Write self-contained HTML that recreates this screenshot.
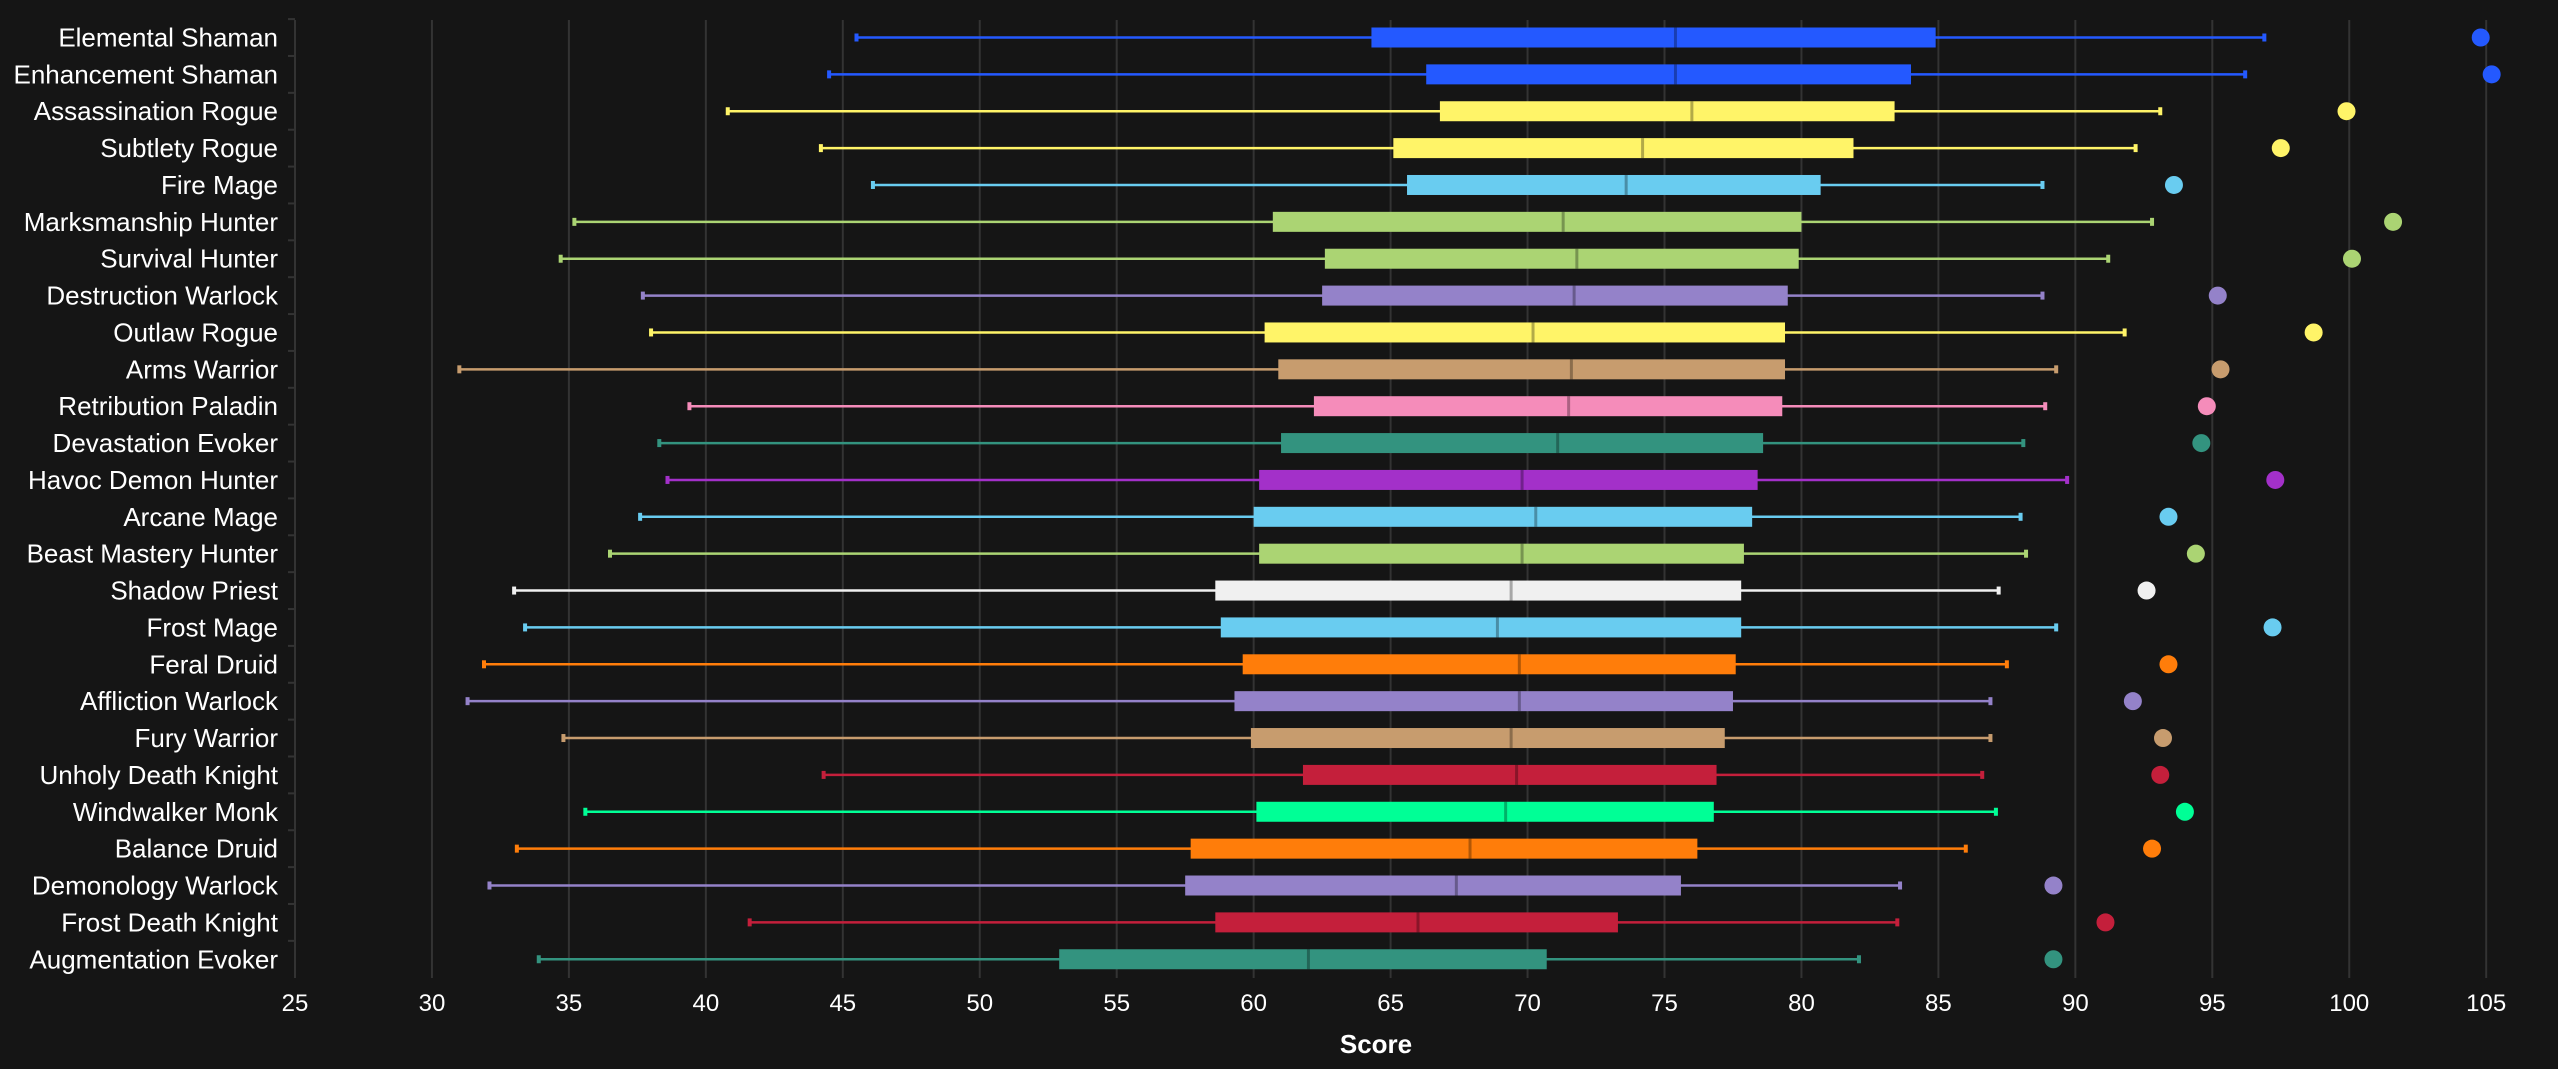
<!DOCTYPE html>
<html><head><meta charset="utf-8"><style>
html,body{margin:0;padding:0;background:#151515;}
svg{display:block}
text{font-family:"Liberation Sans Narrow","Liberation Sans",sans-serif;fill:#fff}
</style></head><body>
<svg id="c" width="2558" height="1069" xmlns="http://www.w3.org/2000/svg"></svg>
<script>
const d=[
["Elemental Shaman","#2459ff",45.5,64.3,75.4,84.9,96.9,104.8],
["Enhancement Shaman","#2459ff",44.5,66.3,75.4,84.0,96.2,105.2],
["Assassination Rogue","#fff468",40.8,66.8,76.0,83.4,93.1,99.9],
["Subtlety Rogue","#fff468",44.2,65.1,74.2,81.9,92.2,97.5],
["Fire Mage","#69ccf0",46.1,65.6,73.6,80.7,88.8,93.6],
["Marksmanship Hunter","#abd473",35.2,60.7,71.3,80.0,92.8,101.6],
["Survival Hunter","#abd473",34.7,62.6,71.8,79.9,91.2,100.1],
["Destruction Warlock","#9482c9",37.7,62.5,71.7,79.5,88.8,95.2],
["Outlaw Rogue","#fff468",38.0,60.4,70.2,79.4,91.8,98.7],
["Arms Warrior","#c79c6e",31.0,60.9,71.6,79.4,89.3,95.3],
["Retribution Paladin","#f58cba",39.4,62.2,71.5,79.3,88.9,94.8],
["Devastation Evoker","#33937f",38.3,61.0,71.1,78.6,88.1,94.6],
["Havoc Demon Hunter","#a330c9",38.6,60.2,69.8,78.4,89.7,97.3],
["Arcane Mage","#69ccf0",37.6,60.0,70.3,78.2,88.0,93.4],
["Beast Mastery Hunter","#abd473",36.5,60.2,69.8,77.9,88.2,94.4],
["Shadow Priest","#f0f0f0",33.0,58.6,69.4,77.8,87.2,92.6],
["Frost Mage","#69ccf0",33.4,58.8,68.9,77.8,89.3,97.2],
["Feral Druid","#ff7d0a",31.9,59.6,69.7,77.6,87.5,93.4],
["Affliction Warlock","#9482c9",31.3,59.3,69.7,77.5,86.9,92.1],
["Fury Warrior","#c79c6e",34.8,59.9,69.4,77.2,86.9,93.2],
["Unholy Death Knight","#c41f3b",44.3,61.8,69.6,76.9,86.6,93.1],
["Windwalker Monk","#00ff96",35.6,60.1,69.2,76.8,87.1,94.0],
["Balance Druid","#ff7d0a",33.1,57.7,67.9,76.2,86.0,92.8],
["Demonology Warlock","#9482c9",32.1,57.5,67.4,75.6,83.6,89.2],
["Frost Death Knight","#c41f3b",41.6,58.6,66.0,73.3,83.5,91.1],
["Augmentation Evoker","#33937f",33.9,52.9,62.0,70.7,82.1,89.2]];
const X=v=>295+(v-25)*27.39, Y=i=>37.5+i*36.87;
let s='';
for(let v=30;v<=105;v+=5)s+=`<line x1="${X(v)}" x2="${X(v)}" y1="20" y2="978" stroke="#333" stroke-width="2"/>`;
s+=`<line x1="295" x2="295" y1="20" y2="978" stroke="#333" stroke-width="2"/>`;
for(let v=25;v<=105;v+=5)s+=`<text x="${X(v)}" y="1011" font-size="24" text-anchor="middle">${v}</text>`;
s+=`<text x="1376" y="1053" font-size="26" font-weight="bold" text-anchor="middle">Score</text>`;
d.forEach((r,i)=>{const y=Y(i),[n,c,a,q1,m,q3,b,o]=r;
s+=`<line x1="288" x2="295" y1="${y-18.4}" y2="${y-18.4}" stroke="#333" stroke-width="2"/>`;
s+=`<text x="278" y="${y+9}" font-size="26" text-anchor="end">${n}</text>`;
s+=`<line x1="${X(a)}" x2="${X(b)}" y1="${y}" y2="${y}" stroke="${c}" stroke-width="2.5"/>`;
s+=`<line x1="${X(a)}" x2="${X(a)}" y1="${y-4}" y2="${y+4}" stroke="${c}" stroke-width="4"/>`;
s+=`<line x1="${X(b)}" x2="${X(b)}" y1="${y-4}" y2="${y+4}" stroke="${c}" stroke-width="4"/>`;
s+=`<rect x="${X(q1)}" y="${y-10}" width="${X(q3)-X(q1)}" height="20" fill="${c}"/>`;
s+=`<line x1="${X(m)}" x2="${X(m)}" y1="${y-10}" y2="${y+10}" stroke="rgba(0,0,0,0.3)" stroke-width="3"/>`;
s+=`<circle cx="${X(o)}" cy="${y}" r="9" fill="${c}"/>`;});
document.getElementById('c').innerHTML=s;
</script>
</body></html>
